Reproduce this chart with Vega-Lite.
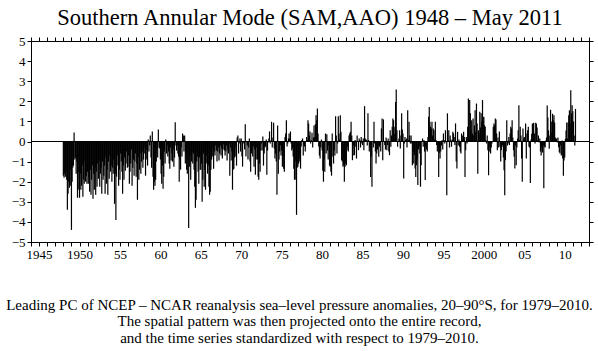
{
"$schema":"https://vega.github.io/schema/vega-lite/v6.json",
"width":558,"height":201,
"autosize":{"type":"none"},
"padding":{"left":31,"top":41,"right":9,"bottom":109},
"background":"white",
"title":{"text":"Southern Annular Mode (SAM,AAO) 1948 – May 2011","font":"Liberation Serif","fontSize":22.5,"fontWeight":"normal","color":"black","anchor":"middle","offset":6},
"data":{"values":[
{"d":"1948-01","v":-1.7},{"d":"1948-02","v":-1.8},{"d":"1948-03","v":-1.6},{"d":"1948-04","v":-1.75},{"d":"1948-05","v":-1.5},{"d":"1948-06","v":-1.9},{"d":"1948-07","v":-3.4},{"d":"1948-08","v":-2.6},{"d":"1948-09","v":-2.0},{"d":"1948-10","v":-2.3},{"d":"1948-11","v":-1.4},{"d":"1948-12","v":-2.2},
{"d":"1949-01","v":-4.4},{"d":"1949-02","v":-2.0},{"d":"1949-03","v":-1.3},{"d":"1949-04","v":-1.2},{"d":"1949-05","v":0.45},{"d":"1949-06","v":-0.9},{"d":"1949-07","v":-0.8},{"d":"1949-08","v":-1.6},{"d":"1949-09","v":-1.0},{"d":"1949-10","v":-2.8},{"d":"1949-11","v":-2.4},{"d":"1949-12","v":-1.5},
{"d":"1950-01","v":-2.8},{"d":"1950-02","v":-1.6},{"d":"1950-03","v":-2.4},{"d":"1950-04","v":-2.2},{"d":"1950-05","v":-1.2},{"d":"1950-06","v":-2.75},{"d":"1950-07","v":-1.9},{"d":"1950-08","v":-2.1},{"d":"1950-09","v":-1.0},{"d":"1950-10","v":-2.0},{"d":"1950-11","v":-1.7},{"d":"1950-12","v":-2.1},
{"d":"1951-01","v":-1.5},{"d":"1951-02","v":-2.1},{"d":"1951-03","v":-1.8},{"d":"1951-04","v":-2.5},{"d":"1951-05","v":-1.4},{"d":"1951-06","v":-2.65},{"d":"1951-07","v":-1.9},{"d":"1951-08","v":-1.2},{"d":"1951-09","v":-2.85},{"d":"1951-10","v":-1.6},{"d":"1951-11","v":-2.4},{"d":"1951-12","v":-1.3},
{"d":"1952-01","v":-2.65},{"d":"1952-02","v":-1.5},{"d":"1952-03","v":-2.25},{"d":"1952-04","v":-1.1},{"d":"1952-05","v":-1.85},{"d":"1952-06","v":-0.9},{"d":"1952-07","v":-2.25},{"d":"1952-08","v":-1.6},{"d":"1952-09","v":-1.3},{"d":"1952-10","v":-2.6},{"d":"1952-11","v":-1.0},{"d":"1952-12","v":-1.9},
{"d":"1953-01","v":-1.7},{"d":"1953-02","v":-1.2},{"d":"1953-03","v":-2.6},{"d":"1953-04","v":-0.8},{"d":"1953-05","v":-2.1},{"d":"1953-06","v":-1.4},{"d":"1953-07","v":-2.65},{"d":"1953-08","v":-1.0},{"d":"1953-09","v":-1.85},{"d":"1953-10","v":-0.7},{"d":"1953-11","v":-1.5},{"d":"1953-12","v":-1.2},
{"d":"1954-01","v":-2.0},{"d":"1954-02","v":-1.3},{"d":"1954-03","v":-1.6},{"d":"1954-04","v":-0.9},{"d":"1954-05","v":-3.1},{"d":"1954-06","v":-1.6},{"d":"1954-07","v":-3.9},{"d":"1954-08","v":-1.75},{"d":"1954-09","v":-0.7},{"d":"1954-10","v":-1.2},{"d":"1954-11","v":-2.2},{"d":"1954-12","v":-1.4},
{"d":"1955-01","v":-1.9},{"d":"1955-02","v":-0.6},{"d":"1955-03","v":-1.0},{"d":"1955-04","v":-1.5},{"d":"1955-05","v":-2.6},{"d":"1955-06","v":-1.2},{"d":"1955-07","v":-1.9},{"d":"1955-08","v":-0.8},{"d":"1955-09","v":-1.45},{"d":"1955-10","v":-1.1},{"d":"1955-11","v":-0.5},{"d":"1955-12","v":-1.3},
{"d":"1956-01","v":-1.25},{"d":"1956-02","v":-0.7},{"d":"1956-03","v":-2.1},{"d":"1956-04","v":-1.5},{"d":"1956-05","v":-1.1},{"d":"1956-06","v":-0.4},{"d":"1956-07","v":-2.2},{"d":"1956-08","v":-1.3},{"d":"1956-09","v":-0.9},{"d":"1956-10","v":-1.7},{"d":"1956-11","v":-1.0},{"d":"1956-12","v":-0.6},
{"d":"1957-01","v":-1.75},{"d":"1957-02","v":-1.1},{"d":"1957-03","v":-2.9},{"d":"1957-04","v":-0.8},{"d":"1957-05","v":-1.9},{"d":"1957-06","v":-1.4},{"d":"1957-07","v":-0.6},{"d":"1957-08","v":-1.6},{"d":"1957-09","v":-1.0},{"d":"1957-10","v":-0.5},{"d":"1957-11","v":-1.3},{"d":"1957-12","v":-0.9},
{"d":"1958-01","v":-0.6},{"d":"1958-02","v":-0.3},{"d":"1958-03","v":-1.7},{"d":"1958-04","v":-0.9},{"d":"1958-05","v":-0.4},{"d":"1958-06","v":-1.2},{"d":"1958-07","v":0.1},{"d":"1958-08","v":-0.5},{"d":"1958-09","v":-0.2},{"d":"1958-10","v":0.3},{"d":"1958-11","v":-0.8},{"d":"1958-12","v":-1.3},
{"d":"1959-01","v":0.5},{"d":"1959-02","v":-1.75},{"d":"1959-03","v":-2.4},{"d":"1959-04","v":-2.0},{"d":"1959-05","v":-2.2},{"d":"1959-06","v":-1.9},{"d":"1959-07","v":-1.0},{"d":"1959-08","v":-0.4},{"d":"1959-09","v":-0.8},{"d":"1959-10","v":0.6},{"d":"1959-11","v":-0.3},{"d":"1959-12","v":-0.35},
{"d":"1960-01","v":-0.9},{"d":"1960-02","v":-1.6},{"d":"1960-03","v":-2.1},{"d":"1960-04","v":-1.2},{"d":"1960-05","v":-2.35},{"d":"1960-06","v":-1.75},{"d":"1960-07","v":-0.5},{"d":"1960-08","v":-1.1},{"d":"1960-09","v":0.1},{"d":"1960-10","v":-0.6},{"d":"1960-11","v":-0.2},{"d":"1960-12","v":-0.75},
{"d":"1961-01","v":-0.5},{"d":"1961-02","v":-1.1},{"d":"1961-03","v":-1.35},{"d":"1961-04","v":-0.3},{"d":"1961-05","v":-0.95},{"d":"1961-06","v":-0.6},{"d":"1961-07","v":-1.0},{"d":"1961-08","v":-0.4},{"d":"1961-09","v":-1.25},{"d":"1961-10","v":-0.8},{"d":"1961-11","v":0.96},{"d":"1961-12","v":-0.2},
{"d":"1962-01","v":-0.45},{"d":"1962-02","v":-0.2},{"d":"1962-03","v":-0.6},{"d":"1962-04","v":-0.75},{"d":"1962-05","v":-2.0},{"d":"1962-06","v":-0.9},{"d":"1962-07","v":-1.4},{"d":"1962-08","v":-0.3},{"d":"1962-09","v":-0.75},{"d":"1962-10","v":0.4},{"d":"1962-11","v":0.3},{"d":"1962-12","v":-0.5},
{"d":"1963-01","v":0.3},{"d":"1963-02","v":-1.1},{"d":"1963-03","v":-0.6},{"d":"1963-04","v":-1.4},{"d":"1963-05","v":-1.6},{"d":"1963-06","v":-0.9},{"d":"1963-07","v":-4.3},{"d":"1963-08","v":-1.25},{"d":"1963-09","v":-0.7},{"d":"1963-10","v":-1.9},{"d":"1963-11","v":-1.0},{"d":"1963-12","v":-0.5},
{"d":"1964-01","v":-1.1},{"d":"1964-02","v":-0.6},{"d":"1964-03","v":-1.4},{"d":"1964-04","v":-2.25},{"d":"1964-05","v":-3.3},{"d":"1964-06","v":-2.9},{"d":"1964-07","v":-1.0},{"d":"1964-08","v":-0.75},{"d":"1964-09","v":-1.5},{"d":"1964-10","v":-2.1},{"d":"1964-11","v":-0.8},{"d":"1964-12","v":-1.4},
{"d":"1965-01","v":-1.4},{"d":"1965-02","v":-1.1},{"d":"1965-03","v":-3.0},{"d":"1965-04","v":-1.9},{"d":"1965-05","v":-0.6},{"d":"1965-06","v":-2.25},{"d":"1965-07","v":-1.4},{"d":"1965-08","v":-2.4},{"d":"1965-09","v":-1.1},{"d":"1965-10","v":-0.7},{"d":"1965-11","v":-1.6},{"d":"1965-12","v":-1.2},
{"d":"1966-01","v":-2.25},{"d":"1966-02","v":-2.65},{"d":"1966-03","v":-2.5},{"d":"1966-04","v":-1.4},{"d":"1966-05","v":-0.9},{"d":"1966-06","v":-0.75},{"d":"1966-07","v":-0.35},{"d":"1966-08","v":-1.35},{"d":"1966-09","v":-0.5},{"d":"1966-10","v":-0.7},{"d":"1966-11","v":-0.2},{"d":"1966-12","v":-0.45},
{"d":"1967-01","v":-1.0},{"d":"1967-02","v":-0.5},{"d":"1967-03","v":-0.3},{"d":"1967-04","v":-0.95},{"d":"1967-05","v":-0.6},{"d":"1967-06","v":-0.2},{"d":"1967-07","v":-0.7},{"d":"1967-08","v":-0.35},{"d":"1967-09","v":-0.85},{"d":"1967-10","v":-0.4},{"d":"1967-11","v":-0.15},{"d":"1967-12","v":-0.45},
{"d":"1968-01","v":-0.7},{"d":"1968-02","v":-0.5},{"d":"1968-03","v":-0.2},{"d":"1968-04","v":-0.95},{"d":"1968-05","v":-0.4},{"d":"1968-06","v":-0.6},{"d":"1968-07","v":-0.1},{"d":"1968-08","v":-1.7},{"d":"1968-09","v":-0.3},{"d":"1968-10","v":-0.95},{"d":"1968-11","v":-0.5},{"d":"1968-12","v":-2.4},
{"d":"1969-01","v":-1.4},{"d":"1969-02","v":-1.35},{"d":"1969-03","v":-0.8},{"d":"1969-04","v":-0.75},{"d":"1969-05","v":-0.25},{"d":"1969-06","v":-1.2},{"d":"1969-07","v":0.2},{"d":"1969-08","v":0.3},{"d":"1969-09","v":-0.6},{"d":"1969-10","v":-0.1},{"d":"1969-11","v":0.15},{"d":"1969-12","v":-0.5},
{"d":"1970-01","v":0.15},{"d":"1970-02","v":-0.75},{"d":"1970-03","v":-1.25},{"d":"1970-04","v":-0.05},{"d":"1970-05","v":-0.1},{"d":"1970-06","v":-0.4},{"d":"1970-07","v":0.86},{"d":"1970-08","v":-0.75},{"d":"1970-09","v":-0.05},{"d":"1970-10","v":-0.2},{"d":"1970-11","v":-0.9},{"d":"1970-12","v":-0.3},
{"d":"1971-01","v":0.15},{"d":"1971-02","v":-1.0},{"d":"1971-03","v":-1.5},{"d":"1971-04","v":-0.6},{"d":"1971-05","v":-0.45},{"d":"1971-06","v":-0.75},{"d":"1971-07","v":-0.25},{"d":"1971-08","v":-1.25},{"d":"1971-09","v":-0.4},{"d":"1971-10","v":-1.65},{"d":"1971-11","v":-0.9},{"d":"1971-12","v":-0.3},
{"d":"1972-01","v":-0.9},{"d":"1972-02","v":-1.75},{"d":"1972-03","v":-1.9},{"d":"1972-04","v":-1.1},{"d":"1972-05","v":-1.5},{"d":"1972-06","v":-0.45},{"d":"1972-07","v":-0.1},{"d":"1972-08","v":-0.45},{"d":"1972-09","v":0.25},{"d":"1972-10","v":-1.2},{"d":"1972-11","v":-0.6},{"d":"1972-12","v":-0.3},
{"d":"1973-01","v":-0.25},{"d":"1973-02","v":0.1},{"d":"1973-03","v":-1.65},{"d":"1973-04","v":-0.45},{"d":"1973-05","v":-0.05},{"d":"1973-06","v":0.15},{"d":"1973-07","v":0.5},{"d":"1973-08","v":-0.1},{"d":"1973-09","v":0.05},{"d":"1973-10","v":0.98},{"d":"1973-11","v":-0.3},{"d":"1973-12","v":0.2},
{"d":"1974-01","v":0.93},{"d":"1974-02","v":-0.35},{"d":"1974-03","v":-0.85},{"d":"1974-04","v":-0.6},{"d":"1974-05","v":-1.0},{"d":"1974-06","v":-2.65},{"d":"1974-07","v":0.8},{"d":"1974-08","v":-1.6},{"d":"1974-09","v":-0.9},{"d":"1974-10","v":-0.5},{"d":"1974-11","v":-0.2},{"d":"1974-12","v":-0.7},
{"d":"1975-01","v":-0.45},{"d":"1975-02","v":-1.25},{"d":"1975-03","v":-0.75},{"d":"1975-04","v":-1.35},{"d":"1975-05","v":-1.5},{"d":"1975-06","v":0.23},{"d":"1975-07","v":0.4},{"d":"1975-08","v":1.06},{"d":"1975-09","v":-0.25},{"d":"1975-10","v":-0.1},{"d":"1975-11","v":0.15},{"d":"1975-12","v":0.4},
{"d":"1976-01","v":0.15},{"d":"1976-02","v":0.5},{"d":"1976-03","v":-0.1},{"d":"1976-04","v":-0.45},{"d":"1976-05","v":-0.35},{"d":"1976-06","v":-0.75},{"d":"1976-07","v":-1.35},{"d":"1976-08","v":-1.9},{"d":"1976-09","v":-1.0},{"d":"1976-10","v":-1.9},{"d":"1976-11","v":-3.65},{"d":"1976-12","v":-1.3},
{"d":"1977-01","v":-1.25},{"d":"1977-02","v":-1.1},{"d":"1977-03","v":-1.0},{"d":"1977-04","v":-0.85},{"d":"1977-05","v":-1.35},{"d":"1977-06","v":-0.25},{"d":"1977-07","v":0.07},{"d":"1977-08","v":0.15},{"d":"1977-09","v":-0.7},{"d":"1977-10","v":-0.2},{"d":"1977-11","v":-0.25},{"d":"1977-12","v":-0.5},
{"d":"1978-01","v":-0.02},{"d":"1978-02","v":0.23},{"d":"1978-03","v":0.07},{"d":"1978-04","v":1.06},{"d":"1978-05","v":0.9},{"d":"1978-06","v":0.3},{"d":"1978-07","v":0.5},{"d":"1978-08","v":-0.1},{"d":"1978-09","v":0.07},{"d":"1978-10","v":0.43},{"d":"1978-11","v":-0.3},{"d":"1978-12","v":0.2},
{"d":"1979-01","v":0.8},{"d":"1979-02","v":0.23},{"d":"1979-03","v":0.86},{"d":"1979-04","v":1.3},{"d":"1979-05","v":1.06},{"d":"1979-06","v":1.64},{"d":"1979-07","v":0.4},{"d":"1979-08","v":-0.25},{"d":"1979-09","v":-0.7},{"d":"1979-10","v":-0.85},{"d":"1979-11","v":-0.3},{"d":"1979-12","v":0.1},
{"d":"1980-01","v":-0.45},{"d":"1980-02","v":-1.45},{"d":"1980-03","v":-2.0},{"d":"1980-04","v":-0.9},{"d":"1980-05","v":-1.5},{"d":"1980-06","v":0.4},{"d":"1980-07","v":-0.6},{"d":"1980-08","v":0.36},{"d":"1980-09","v":-0.45},{"d":"1980-10","v":-0.9},{"d":"1980-11","v":-0.2},{"d":"1980-12","v":-1.2},
{"d":"1981-01","v":-1.25},{"d":"1981-02","v":-1.5},{"d":"1981-03","v":-1.7},{"d":"1981-04","v":0.4},{"d":"1981-05","v":-0.75},{"d":"1981-06","v":-1.1},{"d":"1981-07","v":-0.45},{"d":"1981-08","v":-0.7},{"d":"1981-09","v":1.26},{"d":"1981-10","v":0.3},{"d":"1981-11","v":-0.6},{"d":"1981-12","v":-0.1},
{"d":"1982-01","v":1.26},{"d":"1982-02","v":0.4},{"d":"1982-03","v":0.1},{"d":"1982-04","v":1.3},{"d":"1982-05","v":0.48},{"d":"1982-06","v":-0.93},{"d":"1982-07","v":-1.0},{"d":"1982-08","v":-1.26},{"d":"1982-09","v":-1.18},{"d":"1982-10","v":-2.0},{"d":"1982-11","v":-1.26},{"d":"1982-12","v":-1.1},
{"d":"1983-01","v":-1.18},{"d":"1983-02","v":-0.43},{"d":"1983-03","v":-0.26},{"d":"1983-04","v":-0.5},{"d":"1983-05","v":0.3},{"d":"1983-06","v":0.4},{"d":"1983-07","v":0.48},{"d":"1983-08","v":0.98},{"d":"1983-09","v":0.3},{"d":"1983-10","v":-0.93},{"d":"1983-11","v":-0.7},{"d":"1983-12","v":-0.2},
{"d":"1984-01","v":-0.68},{"d":"1984-02","v":0.07},{"d":"1984-03","v":-0.26},{"d":"1984-04","v":-0.85},{"d":"1984-05","v":0.3},{"d":"1984-06","v":-0.02},{"d":"1984-07","v":-0.43},{"d":"1984-08","v":0.15},{"d":"1984-09","v":0.07},{"d":"1984-10","v":-0.3},{"d":"1984-11","v":0.23},{"d":"1984-12","v":-0.1},
{"d":"1985-01","v":-0.18},{"d":"1985-02","v":0.15},{"d":"1985-03","v":-0.43},{"d":"1985-04","v":1.76},{"d":"1985-05","v":0.15},{"d":"1985-06","v":0.1},{"d":"1985-07","v":0.07},{"d":"1985-08","v":-0.2},{"d":"1985-09","v":1.4},{"d":"1985-10","v":0.07},{"d":"1985-11","v":-0.5},{"d":"1985-12","v":-0.26},
{"d":"1986-01","v":-1.76},{"d":"1986-02","v":-0.76},{"d":"1986-03","v":-2.25},{"d":"1986-04","v":-0.02},{"d":"1986-05","v":-0.3},{"d":"1986-06","v":0.98},{"d":"1986-07","v":-0.1},{"d":"1986-08","v":-0.5},{"d":"1986-09","v":-1.1},{"d":"1986-10","v":-0.6},{"d":"1986-11","v":-0.4},{"d":"1986-12","v":-0.2},
{"d":"1987-01","v":-0.76},{"d":"1987-02","v":-0.26},{"d":"1987-03","v":-0.18},{"d":"1987-04","v":-0.5},{"d":"1987-05","v":0.65},{"d":"1987-06","v":1.14},{"d":"1987-07","v":-0.93},{"d":"1987-08","v":1.1},{"d":"1987-09","v":-0.02},{"d":"1987-10","v":-0.18},{"d":"1987-11","v":-0.4},{"d":"1987-12","v":0.2},
{"d":"1988-01","v":-0.43},{"d":"1988-02","v":-0.18},{"d":"1988-03","v":0.15},{"d":"1988-04","v":-0.5},{"d":"1988-05","v":-0.68},{"d":"1988-06","v":0.56},{"d":"1988-07","v":-0.26},{"d":"1988-08","v":0.3},{"d":"1988-09","v":0.73},{"d":"1988-10","v":1.14},{"d":"1988-11","v":1.06},{"d":"1988-12","v":0.4},
{"d":"1989-01","v":0.73},{"d":"1989-02","v":1.97},{"d":"1989-03","v":2.59},{"d":"1989-04","v":0.56},{"d":"1989-05","v":-0.26},{"d":"1989-06","v":-0.02},{"d":"1989-07","v":0.15},{"d":"1989-08","v":0.56},{"d":"1989-09","v":-0.35},{"d":"1989-10","v":0.3},{"d":"1989-11","v":1.4},{"d":"1989-12","v":0.6},
{"d":"1990-01","v":0.4},{"d":"1990-02","v":-1.84},{"d":"1990-03","v":-0.1},{"d":"1990-04","v":0.23},{"d":"1990-05","v":0.07},{"d":"1990-06","v":0.15},{"d":"1990-07","v":-0.3},{"d":"1990-08","v":1.56},{"d":"1990-09","v":0.07},{"d":"1990-10","v":0.98},{"d":"1990-11","v":0.3},{"d":"1990-12","v":-0.1},
{"d":"1991-01","v":0.3},{"d":"1991-02","v":-0.1},{"d":"1991-03","v":-1.18},{"d":"1991-04","v":-0.5},{"d":"1991-05","v":-1.1},{"d":"1991-06","v":-0.68},{"d":"1991-07","v":-1.34},{"d":"1991-08","v":-1.76},{"d":"1991-09","v":-1.18},{"d":"1991-10","v":-0.9},{"d":"1991-11","v":-2.17},{"d":"1991-12","v":-0.4},
{"d":"1992-01","v":-0.26},{"d":"1992-02","v":-0.6},{"d":"1992-03","v":-2.25},{"d":"1992-04","v":-1.18},{"d":"1992-05","v":-0.02},{"d":"1992-06","v":0.15},{"d":"1992-07","v":-0.26},{"d":"1992-08","v":0.07},{"d":"1992-09","v":-0.5},{"d":"1992-10","v":-1.92},{"d":"1992-11","v":-0.26},{"d":"1992-12","v":-0.4},
{"d":"1993-01","v":-0.5},{"d":"1993-02","v":0.23},{"d":"1993-03","v":1.23},{"d":"1993-04","v":1.72},{"d":"1993-05","v":0.98},{"d":"1993-06","v":0.73},{"d":"1993-07","v":0.65},{"d":"1993-08","v":0.98},{"d":"1993-09","v":0.3},{"d":"1993-10","v":0.65},{"d":"1993-11","v":0.56},{"d":"1993-12","v":0.1},
{"d":"1994-01","v":0.98},{"d":"1994-02","v":0.07},{"d":"1994-03","v":-0.18},{"d":"1994-04","v":-0.5},{"d":"1994-05","v":-0.3},{"d":"1994-06","v":-1.76},{"d":"1994-07","v":-0.56},{"d":"1994-08","v":-0.85},{"d":"1994-09","v":-0.5},{"d":"1994-10","v":-0.2},{"d":"1994-11","v":0.07},{"d":"1994-12","v":-0.4},
{"d":"1995-01","v":0.4},{"d":"1995-02","v":0.07},{"d":"1995-03","v":-0.1},{"d":"1995-04","v":0.56},{"d":"1995-05","v":-0.02},{"d":"1995-06","v":-2.67},{"d":"1995-07","v":1.4},{"d":"1995-08","v":0.07},{"d":"1995-09","v":0.56},{"d":"1995-10","v":-0.3},{"d":"1995-11","v":0.3},{"d":"1995-12","v":0.1},
{"d":"1996-01","v":-0.26},{"d":"1996-02","v":0.07},{"d":"1996-03","v":0.48},{"d":"1996-04","v":0.4},{"d":"1996-05","v":0.23},{"d":"1996-06","v":-0.18},{"d":"1996-07","v":0.9},{"d":"1996-08","v":-1.0},{"d":"1996-09","v":-1.34},{"d":"1996-10","v":0.48},{"d":"1996-11","v":-0.2},{"d":"1996-12","v":0.1},
{"d":"1997-01","v":-0.26},{"d":"1997-02","v":-0.5},{"d":"1997-03","v":-0.6},{"d":"1997-04","v":0.4},{"d":"1997-05","v":0.3},{"d":"1997-06","v":0.1},{"d":"1997-07","v":0.48},{"d":"1997-08","v":0.23},{"d":"1997-09","v":-1.76},{"d":"1997-10","v":-0.43},{"d":"1997-11","v":0.23},{"d":"1997-12","v":-0.1},
{"d":"1998-01","v":0.73},{"d":"1998-02","v":2.14},{"d":"1998-03","v":0.23},{"d":"1998-04","v":2.06},{"d":"1998-05","v":1.4},{"d":"1998-06","v":0.56},{"d":"1998-07","v":1.06},{"d":"1998-08","v":0.4},{"d":"1998-09","v":1.14},{"d":"1998-10","v":0.3},{"d":"1998-11","v":0.8},{"d":"1998-12","v":1.56},
{"d":"1999-01","v":0.48},{"d":"1999-02","v":1.89},{"d":"1999-03","v":0.9},{"d":"1999-04","v":-1.6},{"d":"1999-05","v":0.56},{"d":"1999-06","v":0.4},{"d":"1999-07","v":1.48},{"d":"1999-08","v":0.7},{"d":"1999-09","v":1.4},{"d":"1999-10","v":1.0},{"d":"1999-11","v":2.06},{"d":"1999-12","v":1.2},
{"d":"2000-01","v":1.23},{"d":"2000-02","v":0.81},{"d":"2000-03","v":0.73},{"d":"2000-04","v":0.07},{"d":"2000-05","v":-0.1},{"d":"2000-06","v":0.3},{"d":"2000-07","v":-0.43},{"d":"2000-08","v":-1.68},{"d":"2000-09","v":-0.5},{"d":"2000-10","v":-0.26},{"d":"2000-11","v":-0.6},{"d":"2000-12","v":-0.3},
{"d":"2001-01","v":-0.1},{"d":"2001-02","v":-0.02},{"d":"2001-03","v":0.73},{"d":"2001-04","v":0.9},{"d":"2001-05","v":0.81},{"d":"2001-06","v":1.14},{"d":"2001-07","v":1.1},{"d":"2001-08","v":0.4},{"d":"2001-09","v":-0.43},{"d":"2001-10","v":0.2},{"d":"2001-11","v":-0.3},{"d":"2001-12","v":0.5},
{"d":"2002-01","v":-0.26},{"d":"2002-02","v":-1.0},{"d":"2002-03","v":-0.43},{"d":"2002-04","v":-0.26},{"d":"2002-05","v":-0.18},{"d":"2002-06","v":-0.8},{"d":"2002-07","v":-1.43},{"d":"2002-08","v":-2.67},{"d":"2002-09","v":-0.93},{"d":"2002-10","v":-0.5},{"d":"2002-11","v":1.06},{"d":"2002-12","v":-0.2},
{"d":"2003-01","v":-0.1},{"d":"2003-02","v":0.23},{"d":"2003-03","v":-0.18},{"d":"2003-04","v":0.4},{"d":"2003-05","v":0.73},{"d":"2003-06","v":0.65},{"d":"2003-07","v":1.06},{"d":"2003-08","v":0.2},{"d":"2003-09","v":-0.43},{"d":"2003-10","v":-0.76},{"d":"2003-11","v":-1.34},{"d":"2003-12","v":-0.2},
{"d":"2004-01","v":-1.18},{"d":"2004-02","v":-0.3},{"d":"2004-03","v":0.15},{"d":"2004-04","v":0.56},{"d":"2004-05","v":1.8},{"d":"2004-06","v":0.07},{"d":"2004-07","v":0.73},{"d":"2004-08","v":0.3},{"d":"2004-09","v":-0.85},{"d":"2004-10","v":-2.0},{"d":"2004-11","v":0.65},{"d":"2004-12","v":0.15},
{"d":"2005-01","v":0.23},{"d":"2005-02","v":0.07},{"d":"2005-03","v":0.9},{"d":"2005-04","v":-0.85},{"d":"2005-05","v":0.4},{"d":"2005-06","v":0.56},{"d":"2005-07","v":0.73},{"d":"2005-08","v":-0.26},{"d":"2005-09","v":-0.3},{"d":"2005-10","v":-2.07},{"d":"2005-11","v":0.1},{"d":"2005-12","v":0.38},
{"d":"2006-01","v":0.88},{"d":"2006-02","v":0.9},{"d":"2006-03","v":0.93},{"d":"2006-04","v":0.4},{"d":"2006-05","v":-0.1},{"d":"2006-06","v":0.93},{"d":"2006-07","v":0.88},{"d":"2006-08","v":0.7},{"d":"2006-09","v":0.05},{"d":"2006-10","v":0.3},{"d":"2006-11","v":-0.05},{"d":"2006-12","v":0.15},
{"d":"2007-01","v":-0.5},{"d":"2007-02","v":-0.7},{"d":"2007-03","v":-0.3},{"d":"2007-04","v":-0.55},{"d":"2007-05","v":-0.2},{"d":"2007-06","v":-2.32},{"d":"2007-07","v":-0.25},{"d":"2007-08","v":-0.3},{"d":"2007-09","v":0.05},{"d":"2007-10","v":0.2},{"d":"2007-11","v":1.79},{"d":"2007-12","v":1.2},
{"d":"2008-01","v":0.55},{"d":"2008-02","v":-0.36},{"d":"2008-03","v":0.3},{"d":"2008-04","v":1.58},{"d":"2008-05","v":1.0},{"d":"2008-06","v":0.45},{"d":"2008-07","v":1.38},{"d":"2008-08","v":1.05},{"d":"2008-09","v":1.3},{"d":"2008-10","v":0.95},{"d":"2008-11","v":0.2},{"d":"2008-12","v":0.1},
{"d":"2009-01","v":0.15},{"d":"2009-02","v":-0.05},{"d":"2009-03","v":0.2},{"d":"2009-04","v":-0.28},{"d":"2009-05","v":-0.53},{"d":"2009-06","v":-0.6},{"d":"2009-07","v":-0.2},{"d":"2009-08","v":-0.7},{"d":"2009-09","v":0.05},{"d":"2009-10","v":-0.85},{"d":"2009-11","v":-1.7},{"d":"2009-12","v":-0.95},
{"d":"2010-01","v":-0.8},{"d":"2010-02","v":0.13},{"d":"2010-03","v":0.55},{"d":"2010-04","v":0.95},{"d":"2010-05","v":0.15},{"d":"2010-06","v":0.95},{"d":"2010-07","v":1.3},{"d":"2010-08","v":1.55},{"d":"2010-09","v":0.9},{"d":"2010-10","v":2.55},{"d":"2010-11","v":1.4},{"d":"2010-12","v":1.8},
{"d":"2011-01","v":1.5},{"d":"2011-02","v":1.0},{"d":"2011-03","v":0.3},{"d":"2011-04","v":-0.2},{"d":"2011-05","v":1.62}
]},
"layer":[
{"mark":{"type":"rule","color":"black","strokeWidth":1.2},
 "encoding":{
  "x":{"field":"d","type":"temporal","scale":{"type":"utc","domain":[{"year":1944,"utc":true},{"year":2013,"utc":true}]},
   "axis":{"orient":"bottom","tickCount":{"interval":"year","step":1},"labelFont":"Liberation Serif","labelFontSize":13,"labelExpr":"utcyear(datum.value)%5!=0 ? '' : ((utcyear(datum.value)==1945||utcyear(datum.value)==1950||utcyear(datum.value)==2000) ? ''+utcyear(datum.value) : substring(''+utcyear(datum.value),2))",
    "title":["Leading PC of NCEP – NCAR reanalysis sea–level pressure anomalies, 20–90°S, for 1979–2010.","The spatial pattern was then projected onto the entire record,","and the time series standardized with respect to 1979–2010."],
    "titleFont":"Liberation Serif","titleFontSize":15,"titleFontWeight":"normal","titleColor":"black","titleLineHeight":16.5,"titleX":268,"titleY":55,"titleAlign":"center","titleBaseline":"top"}},
  "y":{"field":"v","type":"quantitative","scale":{"domain":[-5,5],"nice":false},
   "axis":{"orient":"left","values":[-5,-4,-3,-2,-1,0,1,2,3,4,5],"labelFont":"Liberation Serif","labelFontSize":13,"title":null}},
  "y2":{"datum":0}
 }},
{"mark":{"type":"rule","color":"black","strokeWidth":0.8},"encoding":{"y":{"datum":0,"type":"quantitative","axis":null}}},
{"mark":{"type":"rule","opacity":0},
 "encoding":{
  "x":{"field":"d","type":"temporal","axis":{"orient":"top","tickCount":{"interval":"year","step":1},"labels":false,"title":null}},
  "y":{"field":"v","type":"quantitative","axis":{"orient":"right","values":[-5,-4,-3,-2,-1,0,1,2,3,4,5],"labels":false,"title":null}}
 }}
],
"resolve":{"axis":{"x":"independent","y":"independent"}},
"config":{
 "font":"Liberation Serif",
 "view":{"stroke":"black","strokeWidth":1},
 "axis":{"grid":false,"domainColor":"black","domainWidth":1,"tickColor":"black","tickSize":4,"tickWidth":1,"labelFont":"Liberation Serif","labelFontSize":13,"labelColor":"black","labelPadding":2,"labelFlush":false,"labelOverlap":false}
}
}
